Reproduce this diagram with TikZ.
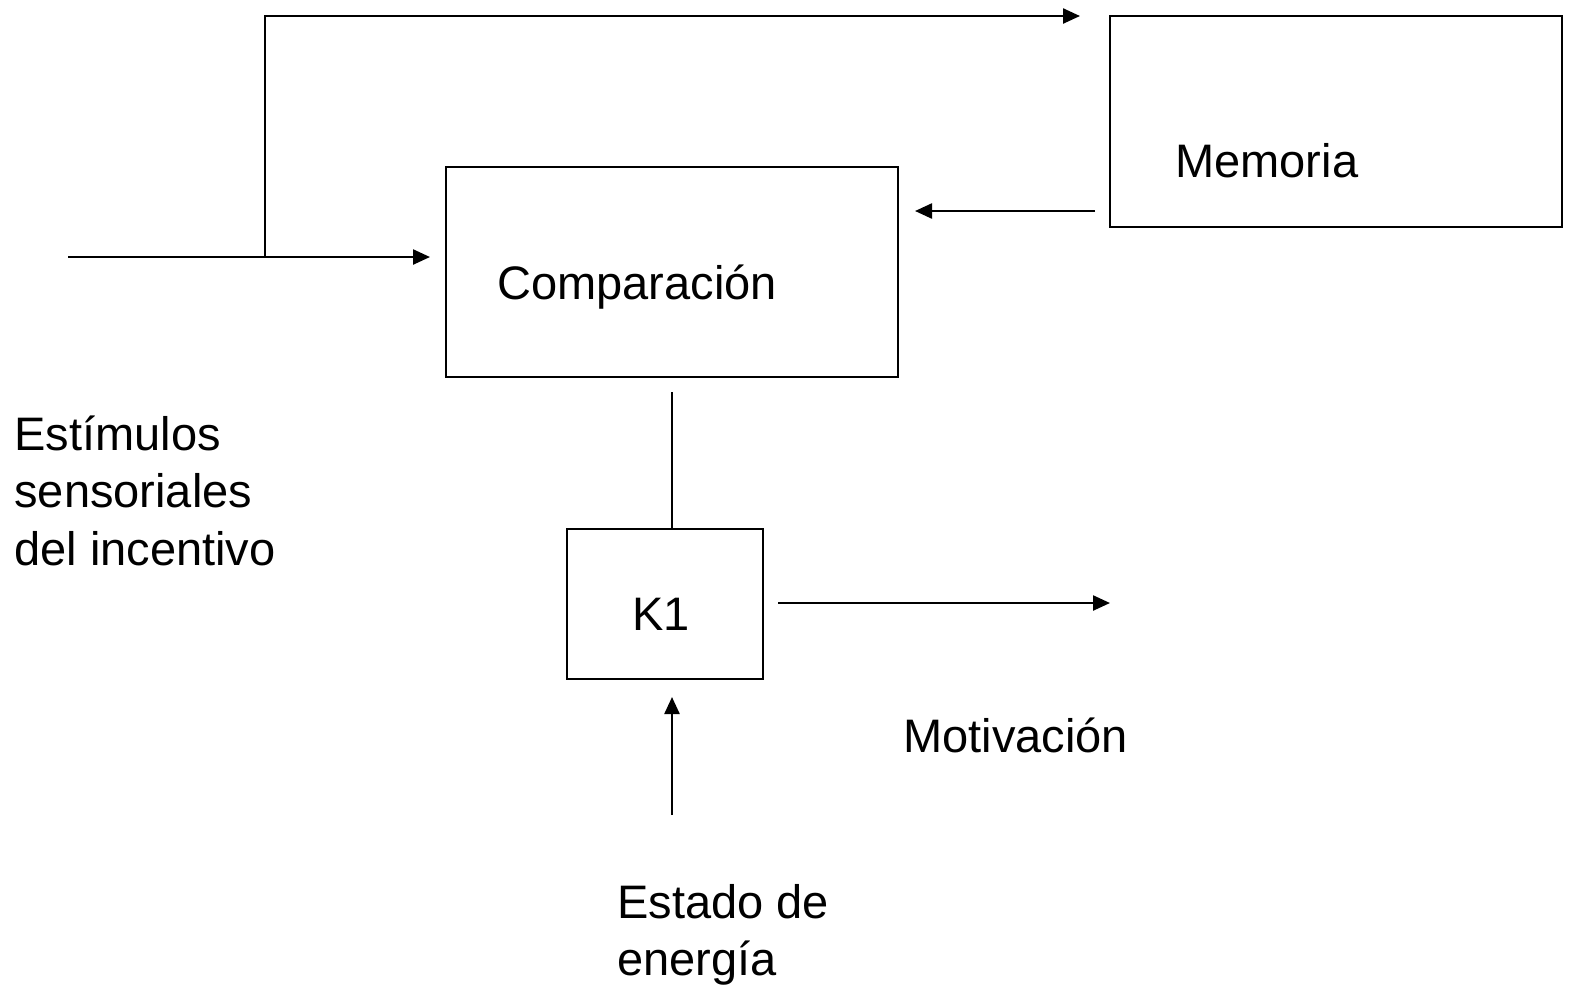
\documentclass[tikz,border=0pt]{standalone}
\usepackage{fontspec}
\setmainfont{Liberation Sans}
\usetikzlibrary{arrows.meta}
\tikzset{
  box/.style={draw, line width=1.2pt, inner sep=0pt},
  lbl/.style={anchor=base west, inner sep=0pt, font=\fontsize{23.5pt}{28.75pt}\selectfont, align=left},
  conn/.style={line width=1.2pt},
  arr/.style={conn, -{Triangle[length=8.5pt, width=7.5pt]}}
}
\begin{document}
\begin{tikzpicture}[x=0.5pt, y=-0.5pt]
\useasboundingbox (0,0) rectangle (1573,987);
% boxes
\node[box, minimum width=226pt, minimum height=105.5pt] (mem) at (1336,121.5) {};
\node[box, minimum width=226pt, minimum height=105pt] (comp) at (672,272) {};
\node[box, minimum width=98pt, minimum height=75pt] (k1) at (665,604) {};
% labels
\node[lbl] (memt) at (1175,177) {Memoria};
\node[lbl] (compt) at (497,299) {Comparación};
\node[lbl] (k1t) at (632,630) {K1};
\node[lbl] (mot) at (903,752) {Motivación};
\node[lbl] (est) at (14,565) {Estímulos\\sensoriales\\del incentivo};
\node[lbl] (ene) at (617,975.5) {Estado de\\energía};
% coordinates
\coordinate (in) at (68,257);
\coordinate (br) at (265,257);
\coordinate (tp) at (265,16);
\coordinate (tend) at (1080,16);
\coordinate (inend) at (430,257);
\coordinate (ms) at (1095,211);
\coordinate (me) at (915,211);
\coordinate (vs) at (672,392);
\coordinate (ve) at (672,528);
\coordinate (os) at (778,603);
\coordinate (oe) at (1110,603);
\coordinate (us) at (672,815);
\coordinate (ue) at (672,697);
% connectors
\draw[arr] (br) -- (tp) -- (tend);
\draw[arr] (in) -- (inend);
\draw[arr] (ms) -- (me);
\draw[conn] (vs) -- (ve);
\draw[arr] (os) -- (oe);
\draw[arr] (us) -- (ue);
\end{tikzpicture}
\end{document}
